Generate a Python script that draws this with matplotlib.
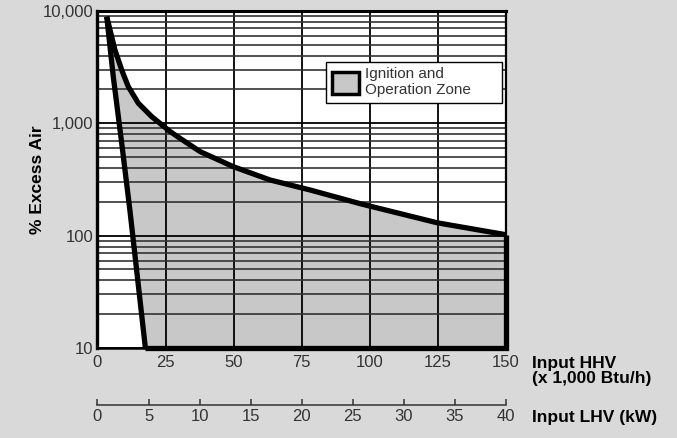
import matplotlib.pyplot as plt
import numpy as np
from matplotlib.patches import Patch
from matplotlib.ticker import FixedLocator, LogLocator, NullFormatter

plt.rcParams['font.family'] = ['Liberation Sans', 'DejaVu Sans']

# upper boundary of the zone (input HHV x1000 Btu/h, % excess air)
upper_x = [3.4, 6.4, 8.9, 11.3, 15.0, 19.9, 26.7, 30.3, 37.7, 49.9, 63.4, 78.1, 96.7, 124.9, 150]
upper_y = [8900, 4510, 2985, 2123, 1510, 1148, 844, 736, 560, 411, 313, 255, 192, 130, 102]
# lower/left boundary of the zone
lower_x = [3.4, 5.8, 8.9, 11.9, 17.6]
lower_y = [8900, 2600, 665, 169, 10]
y_floor = 10
x_max = 150

hhv_ticks = [0, 25, 50, 75, 100, 125, 150]
lhv_ticks = [0, 5, 10, 15, 20, 25, 30, 35, 40]
y_ticks = [10, 100, 1000, 10000]
y_labels = ['10', '100', '1,000', '10,000']

bg = '#d9d9d9'
fill_c = '#c8c8c8'
txt_c = '#333333'

fig = plt.figure(figsize=(6.77, 4.38), dpi=100, facecolor=bg)
ax = fig.add_axes([0.144, 0.2055, 0.603, 0.7695])
ax.set_facecolor('white')

# filled zone
poly_x = upper_x + [x_max] + lower_x[::-1]
poly_y = upper_y + [y_floor] + lower_y[::-1]
ax.fill(poly_x, poly_y, facecolor=fill_c, edgecolor='none', zorder=1)

# outline of the zone
ax.plot(upper_x, upper_y, color='k', lw=3.8, solid_capstyle='butt', zorder=3, clip_on=False)
ax.plot(lower_x, lower_y, color='k', lw=3.8, solid_capstyle='butt', zorder=3, clip_on=False)
ax.plot([upper_x[-1], x_max, lower_x[-1]], [upper_y[-1], y_floor, lower_y[-1]],
        color='k', lw=3.8, solid_joinstyle='miter', solid_capstyle='butt', zorder=3, clip_on=False)

ax.set_yscale('log')
ax.set_xlim(0, x_max)
ax.set_ylim(10, 10000)

ax.xaxis.set_major_locator(FixedLocator(hhv_ticks))
ax.set_yticks(y_ticks)
ax.set_yticklabels(y_labels)
ax.yaxis.set_minor_locator(LogLocator(base=10, subs=np.arange(2, 10)))
ax.yaxis.set_minor_formatter(NullFormatter())

ax.grid(True, which='major', color='k', lw=1.3)
ax.grid(True, which='minor', axis='y', color='#333333', lw=1.2)
ax.tick_params(which='both', length=0, labelsize=12, labelcolor=txt_c)
ax.tick_params(axis='x', pad=5)
ax.tick_params(axis='y', pad=3)

for side, w in [('left', 2.4), ('top', 2.2), ('right', 1.6), ('bottom', 1.8)]:
    ax.spines[side].set_linewidth(w)
    ax.spines[side].set_color('k')

ax.set_ylabel('% Excess Air', fontsize=12.5, fontweight='bold', labelpad=-2)

leg = ax.legend(handles=[Patch(facecolor=fill_c, edgecolor='k', lw=2.5,
                                label='Ignition and\nOperation Zone      ')],
                loc='upper right', bbox_to_anchor=(0.991, 0.849), borderaxespad=0,
                fontsize=11, fancybox=False, framealpha=1, edgecolor='k',
                handlelength=1.8, handleheight=1.8, handletextpad=0.4, borderpad=0.35)
leg.get_frame().set_linewidth(1.0)
for t in leg.get_texts():
    t.set_color(txt_c)

# second scale: input LHV in kW
ax2 = fig.add_axes([0.144, 0.0753, 0.603, 0.0001])
ax2.set_facecolor('none')
for side in ['left', 'right', 'top']:
    ax2.spines[side].set_visible(False)
ax2.spines['bottom'].set_linewidth(1.1)
ax2.spines['bottom'].set_color('#333333')
ax2.set_xlim(lhv_ticks[0], lhv_ticks[-1])
ax2.set_xticks(lhv_ticks)
ax2.set_yticks([])
ax2.tick_params(axis='x', direction='in', length=4, width=1.1, color='#333333',
                pad=3, labelsize=12, labelcolor=txt_c)

fig.text(0.786, 0.153, 'Input HHV\n(x 1,000 Btu/h)', fontsize=12.5, fontweight='bold',
         va='center', ha='left', linespacing=1.0)
fig.text(0.786, 0.046, 'Input LHV (kW)', fontsize=12.5, fontweight='bold',
         va='center', ha='left')

fig.savefig('out.png', dpi=100, facecolor=bg)
